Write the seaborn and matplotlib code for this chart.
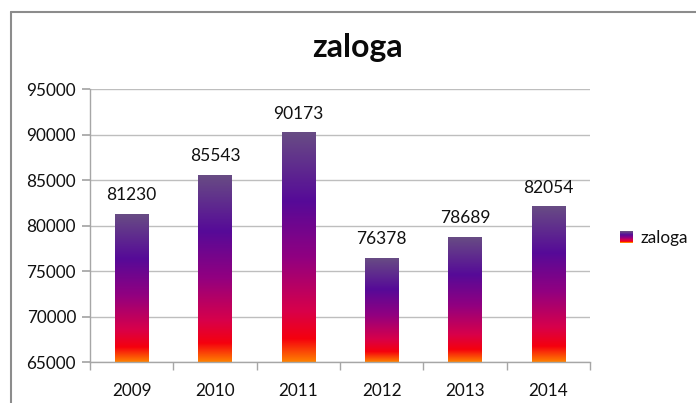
import numpy as np
import pandas as pd
import matplotlib
matplotlib.use("Agg")
import matplotlib.pyplot as plt
import seaborn as sns
from matplotlib.colors import LinearSegmentedColormap
from matplotlib.lines import Line2D
from matplotlib.patches import Patch, Rectangle
from matplotlib.legend_handler import HandlerBase

years = ["2009", "2010", "2011", "2012", "2013", "2014"]
values = [81230, 85543, 90173, 76378, 78689, 82054]
series_name = "zaloga"

sns.set_theme(style="white")
plt.rcParams['font.family'] = ['Lato', 'DejaVu Sans']

fig = plt.figure(figsize=(6.96, 4.03), dpi=100)
ax = fig.add_axes([90/696, 1-362/403, 500/696, 273/403])

df = pd.DataFrame({"year": years, "value": values})
sns.barplot(data=df, x="year", y="value", ax=ax, width=0.4, color="#7030A0", saturation=1)

ax.set_ylim(65000, 95000)
ax.set_xlim(-0.5, 5.5)
ax.set_yticks(np.arange(65000, 95001, 5000))
ax.set_xlabel("")
ax.set_ylabel("")

# gradient fill
cmap = LinearSegmentedColormap.from_list("grad", [
    (0.0, "#684C84"), (0.3, "#560A98"), (0.55, "#920080"),
    (0.78, "#D8004A"), (0.9, "#F5000E"), (1.0, "#FF8000")])
grad = np.linspace(0, 1, 256).reshape(-1, 1)
for p in ax.patches:
    x0, y0 = p.get_x(), p.get_y()
    w, h = p.get_width(), p.get_height()
    ybot = 65000
    ytop = y0 + h
    p.set_facecolor("none")
    p.set_edgecolor("none")
    ax.imshow(grad, cmap=cmap, aspect="auto", extent=(x0, x0 + w, ybot, ytop),
              origin="upper", zorder=2)
ax.set_xlim(-0.5, 5.5)
ax.set_ylim(65000, 95000)

for i, v in enumerate(values):
    ax.annotate(str(v), (i, v), xytext=(0, 8), textcoords="offset points",
                ha="center", va="bottom", fontsize=12.5, color="#111111")

ax.grid(axis="y", color="#BEBEBE", linewidth=1)
ax.set_axisbelow(True)
for s in ["top", "right"]:
    ax.spines[s].set_visible(False)
for s in ["left", "bottom"]:
    ax.spines[s].set_color("#A6A6A6")
    ax.spines[s].set_linewidth(1)

ax.tick_params(axis="y", which="major", left=True, length=6, color="#A6A6A6",
               labelsize=12.3, labelcolor="#111111", pad=4)
ax.tick_params(axis="x", which="major", bottom=False, labelsize=12.3,
               labelcolor="#111111", pad=9)
ax.set_xticks(np.arange(-0.5, 6, 1), minor=True)
ax.tick_params(axis="x", which="minor", bottom=True, length=6, color="#A6A6A6")

fig.text(357/696, 1-47/403, "zaloga", ha="center", va="center",
         fontsize=23, fontweight="bold", color="#0A0A0A")


class GradHandler(HandlerBase):
    def create_artists(self, legend, orig_handle, xdescent, ydescent, width,
                       height, fontsize, trans):
        n = 12
        arts = []
        for k in range(n):
            c = cmap(k / (n - 1))
            r = Rectangle((-xdescent, -ydescent + height * (1 - (k + 1) / n)),
                          width, height / n, facecolor=c, edgecolor="none",
                          transform=trans)
            arts.append(r)
        return arts


handle = Patch(facecolor="#7A1A90", edgecolor="none")
leg = fig.legend([handle], [series_name], loc="center left",
                 bbox_to_anchor=(605/696, 1-238/403), frameon=False,
                 fontsize=12.3, handlelength=0.75, handleheight=0.75,
                 handletextpad=0.4, handler_map={Patch: GradHandler()})
for t in leg.get_texts():
    t.set_color("#111111")

# outer chart frame
fig.add_artist(Line2D([11/696, 11/696], [0, 1-12/403], transform=fig.transFigure,
                      color="#8C8C8C", linewidth=1.5))
fig.add_artist(Line2D([11/696, 1], [1-12/403, 1-12/403], transform=fig.transFigure,
                      color="#8C8C8C", linewidth=1.5))

fig.savefig("out.png", dpi=100)
